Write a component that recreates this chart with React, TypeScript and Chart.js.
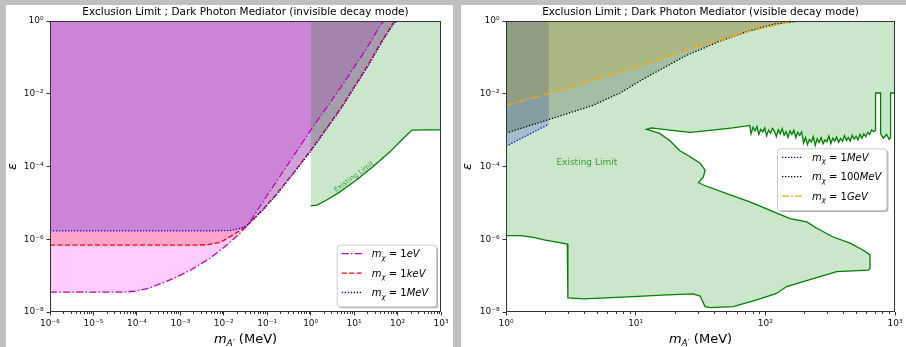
import React, { useEffect, useRef } from 'react';
import { Chart, registerables } from 'chart.js';

Chart.register(...registerables);

const FONT = "'DejaVu Sans', 'Liberation Sans', sans-serif";
const AXIS_COLOR = '#333333';
const BG_GRAY = '#c0c0c0';

// ================= Left panel: invisible decay mode =================
const invTitle = 'Exclusion Limit ; Dark Photon Mediator (invisible decay mode)';
const invMassTicks = [1e-6, 1e-5, 1e-4, 1e-3, 1e-2, 1e-1, 1, 10, 100, 1000];
const epsTicks = [1e-8, 1e-6, 1e-4, 1e-2, 1];

const inv1eVMass = [1e-6, 5e-5, 1e-4, 2e-4, 5.8e-4, 1.66e-3, 4.8e-3, 1.17e-2, 2.34e-2, 3.67e-2, 8.1e-2, 0.316, 1, 4.9, 19.5, 31.6, 39.8, 49];
const inv1eVEps = [3.5e-8, 3.5e-8, 3.8e-8, 4.6e-8, 7.6e-8, 1.38e-7, 3.0e-7, 6.9e-7, 1.45e-6, 2.57e-6, 1.12e-5, 1.26e-4, 1.0e-3, 1.48e-2, 0.178, 0.47, 0.76, 1];

const inv1keVMass = [1e-6, 2.5e-3, 4.1e-3, 8.2e-3, 1.66e-2, 2.8e-2, 3.67e-2, 7.9e-2, 0.158, 0.398, 1, 4.9, 19.5, 46.8, 79, 95];
const inv1keVEps = [6.9e-7, 6.9e-7, 7.1e-7, 8.1e-7, 1.32e-6, 2.0e-6, 2.57e-6, 6.6e-6, 1.66e-5, 6.6e-5, 2.8e-4, 4.0e-3, 5.5e-2, 0.33, 0.87, 1];

const inv1MeVMass = [1e-6, 6.3e-3, 1.39e-2, 2.24e-2, 3.16e-2, 3.67e-2, 7.9e-2, 0.158, 0.398, 1.05, 5.1, 20.4, 49, 83, 100];
const inv1MeVEps = [1.7e-6, 1.7e-6, 1.74e-6, 1.95e-6, 2.3e-6, 2.57e-6, 6.3e-6, 1.58e-5, 6.3e-5, 2.8e-4, 4.0e-3, 5.5e-2, 0.33, 0.87, 1];

const invLimitMass = [1, 1.41, 2.34, 4.8, 11.5, 27.5, 67.6, 135, 214, 398, 1000];
const invLimitEps = [8.3e-6, 8.7e-6, 1.2e-5, 2.04e-5, 4.3e-5, 1.0e-4, 2.57e-4, 5.9e-4, 1.0e-3, 1.02e-3, 1.02e-3];

const invLegendLabels = ['1eV', '1keV', '1MeV'];
const invNote = { mass: 10, eps: 5.2e-5 };

// ================= Right panel: visible decay mode =================
const visTitle = 'Exclusion Limit ; Dark Photon Mediator (visible decay mode)';
const visMassTicks = [1, 10, 100, 1000];

const vis1MeVMass = [1, 2.14];
const vis1MeVEps = [3.6e-4, 1.45e-3];

const vis100MeVMass = [1, 2.14, 4.7, 7.6, 10.7, 13.7, 24.5, 44.7, 70.8, 115, 186];
const vis100MeVEps = [8.3e-4, 1.95e-3, 4.8e-3, 1.05e-2, 2.2e-2, 3.6e-2, 0.112, 0.28, 0.5, 0.81, 1];

const vis1GeVMass = [1, 2.14, 7.6, 13.7, 24.8, 44.7, 81, 148, 158];
const vis1GeVEps = [4.8e-3, 1.02e-2, 3.9e-2, 7.6e-2, 0.158, 0.3, 0.56, 0.91, 1];

// existing limit outline: lower edge (left axis -> tongue tip)
const limitLowMass = [1, 1.29, 1.63, 2.01, 2.47, 2.97, 3.0, 3.96, 5.33, 9.6, 17.4, 27.9, 31.4, 34.3, 37.5, 56.6, 85.9, 122, 146, 196, 355, 622, 641, 641];
const limitLowEps = [1.26e-6, 1.26e-6, 1.12e-6, 9.5e-7, 8.3e-7, 7.4e-7, 2.45e-8, 2.3e-8, 2.4e-8, 2.63e-8, 2.95e-8, 3.16e-8, 2.75e-8, 1.41e-8, 1.32e-8, 1.41e-8, 2.14e-8, 3.24e-8, 5.0e-8, 6.8e-8, 1.29e-7, 1.41e-7, 1.58e-7, 3.7e-7];
// tongue upper edge (tip -> upper left corner)
const limitTongueMass = [569, 450, 331, 249, 209, 155, 115, 75.9, 53.5, 33.3, 30.5, 33.3, 34.3, 31.4, 26.3, 21.9, 18.3, 15.3, 12.1];
const limitTongueEps = [5.0e-7, 7.8e-7, 1.17e-6, 2.0e-6, 3.0e-6, 3.7e-6, 5.75e-6, 1.07e-5, 1.66e-5, 3.1e-5, 3.6e-5, 5.2e-5, 7.9e-5, 1.23e-4, 1.86e-4, 2.7e-4, 5.2e-4, 8.1e-4, 1.05e-3];
// upper boundary, smooth part
const limitUpMass = [13.2, 18.3, 26.3, 37.5, 56.2, 75.9];
const limitUpEps = [1.15e-3, 1.0e-3, 8.7e-4, 9.8e-4, 1.15e-3, 1.35e-3];
// upper boundary, jagged part
const limitJagMass = [
  77.6, 80.4, 83.2, 86.1, 89.1, 92.3, 95.5, 98.9, 102.3, 105.9, 109.6, 113.5, 117.5, 121.6, 125.9, 130.3,
  134.9, 139.6, 144.5, 149.6, 154.9, 160.3, 166.0, 171.8, 177.8, 184.1, 190.5, 197.2, 204.2, 211.3, 218.8, 226.5,
  234.4, 242.7, 251.2, 260.0, 269.2, 278.6, 288.4, 298.5, 309.0, 319.9, 331.1, 342.8, 354.8, 367.3, 380.2, 393.6,
  407.4, 421.7, 436.5, 451.9, 467.7, 484.2, 501.2, 518.8, 537.0, 555.9, 575.4, 595.7, 616.6, 638.3, 660.7, 683.9,
  707.9, 707.9, 774.5, 774.5, 812.8, 861.0, 901.6, 924.7, 924.7, 1000, 1000,
];
const limitJagEps = [
  7.9e-4, 1.2e-3, 9.5e-4, 1.26e-3, 7.6e-4, 1.05e-3, 8.9e-4, 1.15e-3, 6.9e-4, 1.0e-3, 8.3e-4, 1.12e-3, 9.3e-4, 6.6e-4, 1.02e-3, 7.9e-4,
  1.1e-3, 7.2e-4, 9.1e-4, 6.3e-4, 9.5e-4, 7.6e-4, 1.0e-3, 6.2e-4, 8.7e-4, 7.1e-4, 8.9e-4, 4.4e-4, 6.3e-4, 4.0e-4, 5.5e-4, 4.7e-4,
  6.6e-4, 3.8e-4, 5.8e-4, 4.5e-4, 6.2e-4, 4.2e-4, 5.4e-4, 4.8e-4, 6.9e-4, 4.3e-4, 6.0e-4, 5.0e-4, 6.5e-4, 4.6e-4, 5.9e-4, 4.9e-4,
  7.1e-4, 5.2e-4, 6.3e-4, 5.0e-4, 7.2e-4, 5.6e-4, 6.8e-4, 5.4e-4, 7.6e-4, 6.0e-4, 7.9e-4, 6.6e-4, 8.7e-4, 7.6e-4, 1.02e-3, 9.1e-4,
  1.0e-3, 1.05e-2, 1.05e-2, 7.9e-4, 6.0e-4, 7.6e-4, 5.6e-4, 6.3e-4, 1.05e-2, 1.05e-2, 6.3e-4,
];

const visLegendLabels = ['1MeV', '100MeV', '1GeV'];
const visNote = { mass: 4.2, eps: 1.26e-4 };

// ================= styles =================
const DASH_DOT = [7, 2.3, 1.5, 2.3];
const DASHED = [5, 2.5];
const DOTTED = [1.3, 1.7];
const C_MAG = '#bf00bf';
const C_RED = '#ff0000';
const C_BLUE = '#0000ff';
const C_BLACK = '#000000';
const C_ORANGE = '#ffa500';
const C_GREEN = '#008000';

// ================= helpers =================
const SUP: Record<string, string> = { '-': '⁻', '0': '⁰', '1': '¹', '2': '²', '3': '³', '4': '⁴', '5': '⁵', '6': '⁶', '7': '⁷', '8': '⁸', '9': '⁹' };
const powLabel = (v: number) => {
  const e = Math.round(Math.log10(v));
  return '10' + String(e).split('').map((c) => SUP[c]).join('');
};
const pts = (xs: number[], ys: number[]) => xs.map((x, i) => ({ x, y: ys[i] }));

type Seg = { t: string; it?: boolean; size: number; dy?: number };
function drawRich(ctx: CanvasRenderingContext2D, segs: Seg[], x: number, y: number, align: 'left' | 'center') {
  const fonts = segs.map((s) => `${s.it ? 'italic ' : ''}${s.size}px ${FONT}`);
  const widths = segs.map((s, i) => {
    ctx.font = fonts[i];
    return ctx.measureText(s.t).width;
  });
  const total = widths.reduce((a, b) => a + b, 0);
  let cx = align === 'center' ? x - total / 2 : x;
  ctx.textAlign = 'left';
  ctx.textBaseline = 'alphabetic';
  segs.forEach((s, i) => {
    ctx.font = fonts[i];
    ctx.fillText(s.t, cx, y + (s.dy || 0));
    cx += widths[i];
  });
}

function massSegs(label: string): Seg[] {
  const m = label.match(/^(\d+)(.*)$/) as RegExpMatchArray;
  return [
    { t: 'm', it: true, size: 10 },
    { t: 'χ', it: true, size: 7, dy: 2.5 },
    { t: ' = ', size: 10 },
    { t: m[1], size: 10 },
    { t: m[2], it: true, size: 10 },
  ];
}

interface Decor {
  title: string;
  legend: { label: string; color: string; dash: number[] }[];
  box: { right: number; top: number; width: number; height: number };
  note: { mass: number; eps: number; size: number; angle: number };
}

function decorPlugin(d: Decor) {
  return {
    id: 'decor',
    afterDatasetsDraw(chart: any) {
      const { ctx, chartArea: a } = chart;
      const xs = chart.scales.x;
      ctx.save();
      // frame
      ctx.strokeStyle = AXIS_COLOR;
      ctx.lineWidth = 1;
      ctx.setLineDash([]);
      ctx.strokeRect(a.left + 0.5, a.top + 0.5, a.right - a.left - 1, a.bottom - a.top - 1);
      // minor ticks on x
      const lo = Math.round(Math.log10(xs.min));
      const hi = Math.round(Math.log10(xs.max));
      ctx.beginPath();
      for (let e = lo; e < hi; e++) {
        for (let k = 2; k <= 9; k++) {
          const px = Math.round(xs.getPixelForValue(k * Math.pow(10, e))) + 0.5;
          ctx.moveTo(px, a.bottom);
          ctx.lineTo(px, a.bottom + 2);
        }
      }
      ctx.stroke();
      // legend
      const b = d.box;
      const bx = a.right - b.right - b.width;
      const by = a.top + b.top;
      ctx.fillStyle = 'rgba(0,0,0,0.3)';
      ctx.beginPath();
      ctx.roundRect(bx + 2, by + 2, b.width, b.height, 3);
      ctx.fill();
      ctx.fillStyle = '#ffffff';
      ctx.strokeStyle = '#cccccc';
      ctx.beginPath();
      ctx.roundRect(bx + 0.5, by + 0.5, b.width, b.height, 3);
      ctx.fill();
      ctx.stroke();
      d.legend.forEach((it, i) => {
        const yy = by + 9 + i * 19.4;
        ctx.setLineDash(it.dash);
        ctx.strokeStyle = it.color;
        ctx.lineWidth = 1.3;
        ctx.beginPath();
        ctx.moveTo(bx + 5, yy);
        ctx.lineTo(bx + 25, yy);
        ctx.stroke();
        ctx.setLineDash([]);
        ctx.fillStyle = '#000000';
        drawRich(ctx, massSegs(it.label), bx + 35, yy + 3.6, 'left');
      });
      ctx.restore();
    },
    afterDraw(chart: any) {
      const { ctx, chartArea: a } = chart;
      ctx.save();
      ctx.fillStyle = '#000000';
      ctx.font = `10.5px ${FONT}`;
      ctx.textAlign = 'center';
      ctx.textBaseline = 'middle';
      ctx.fillText(d.title, (a.left + a.right) / 2, 7.5);
      drawRich(
        ctx,
        [
          { t: 'm', it: true, size: 13 },
          { t: 'A′', it: true, size: 9, dy: 3 },
          { t: ' (MeV)', size: 13 },
        ],
        (a.left + a.right) / 2,
        338,
        'center'
      );
      ctx.save();
      ctx.translate(7, (a.top + a.bottom) / 2);
      ctx.rotate(-Math.PI / 2);
      ctx.font = `italic 13px ${FONT}`;
      ctx.textAlign = 'center';
      ctx.textBaseline = 'middle';
      ctx.fillText('ε', 0, 0);
      ctx.restore();
      // "Existing Limit" annotation
      const nx = chart.scales.x.getPixelForValue(d.note.mass);
      const ny = chart.scales.y.getPixelForValue(d.note.eps);
      ctx.save();
      ctx.translate(nx, ny);
      ctx.rotate((d.note.angle * Math.PI) / 180);
      ctx.font = `${d.note.size}px ${FONT}`;
      ctx.fillStyle = 'rgba(0,128,0,0.72)';
      ctx.textAlign = 'center';
      ctx.textBaseline = 'middle';
      ctx.fillText('Existing Limit', 0, 0);
      ctx.restore();
      ctx.restore();
    },
  };
}

const zeroPad = (s: any) => {
  s.paddingLeft = 0;
  s.paddingRight = 0;
  s.paddingTop = 0;
  s.paddingBottom = 0;
};

function buildConfig(p: { datasets: any[]; xMin: number; xMax: number; xTicks: number[]; padLeft: number; padRight: number; decor: Decor }): any {
  const tickFont = { family: FONT, size: 9 };
  return {
    type: 'line',
    data: { datasets: p.datasets },
    options: {
      responsive: false,
      maintainAspectRatio: false,
      animation: false,
      devicePixelRatio: 1,
      events: [],
      layout: { padding: { top: 16, left: p.padLeft, right: p.padRight, bottom: 0 } },
      elements: { point: { radius: 0 }, line: { tension: 0, borderWidth: 1.3 } },
      plugins: {
        legend: { display: false },
        tooltip: { enabled: false },
        title: { display: false },
        filler: { drawTime: 'beforeDatasetsDraw' },
      },
      scales: {
        x: {
          type: 'logarithmic',
          min: p.xMin,
          max: p.xMax,
          afterBuildTicks: (s: any) => {
            s.ticks = p.xTicks.map((v) => ({ value: v }));
          },
          afterFit: (s: any) => {
            s.height = 35;
            zeroPad(s);
          },
          ticks: { callback: (v: any) => powLabel(Number(v)), font: tickFont, color: '#111111', padding: 2.5, autoSkip: false, maxRotation: 0, minRotation: 0 },
          grid: { display: true, drawOnChartArea: false, drawTicks: true, tickLength: 3.5, tickColor: AXIS_COLOR, tickWidth: 1 },
          border: { display: false },
        },
        y: {
          type: 'logarithmic',
          min: 1e-8,
          max: 1,
          afterBuildTicks: (s: any) => {
            s.ticks = epsTicks.map((v) => ({ value: v }));
          },
          afterFit: (s: any) => {
            s.width = 44;
            zeroPad(s);
          },
          ticks: { callback: (v: any) => powLabel(Number(v)), font: tickFont, color: '#111111', padding: 3, autoSkip: false },
          grid: { display: true, drawOnChartArea: false, drawTicks: true, tickLength: 3.5, tickColor: AXIS_COLOR, tickWidth: 1 },
          border: { display: false },
        },
      },
    },
    plugins: [decorPlugin(p.decor)],
  };
}

function leftConfig() {
  const datasets = [
    { data: pts(inv1eVMass, inv1eVEps), borderColor: C_MAG, borderDash: DASH_DOT, fill: 'end', backgroundColor: 'rgba(255,0,255,0.2)', order: 4 },
    { data: pts(inv1keVMass, inv1keVEps), borderColor: C_RED, borderDash: DASHED, fill: 'end', backgroundColor: 'rgba(255,0,0,0.2)', order: 3 },
    { data: pts(inv1MeVMass, inv1MeVEps), borderColor: C_BLUE, borderDash: DOTTED, fill: 'end', backgroundColor: 'rgba(0,0,255,0.2)', order: 2 },
    { data: pts(invLimitMass, invLimitEps), borderColor: C_GREEN, fill: 'end', backgroundColor: 'rgba(0,128,0,0.2)', order: 1 },
  ];
  return buildConfig({
    datasets,
    xMin: 1e-6,
    xMax: 1e3,
    xTicks: invMassTicks,
    padLeft: 0,
    padRight: 12,
    decor: {
      title: invTitle,
      legend: [
        { label: invLegendLabels[0], color: C_MAG, dash: DASH_DOT },
        { label: invLegendLabels[1], color: C_RED, dash: DASHED },
        { label: invLegendLabels[2], color: C_BLUE, dash: DOTTED },
      ],
      box: { right: 5, top: 223.7, width: 99.3, height: 61.6 },
      note: { mass: invNote.mass, eps: invNote.eps, size: 7, angle: -36 },
    },
  });
}

function rightConfig() {
  const outline = [
    ...pts(limitLowMass, limitLowEps),
    ...pts(limitTongueMass, limitTongueEps),
    ...pts(limitUpMass, limitUpEps),
    ...pts(limitJagMass, limitJagEps),
  ];
  const polygon = [{ x: 1, y: 1 }, ...outline, { x: 1000, y: 1 }];
  const datasets = [
    { data: pts(vis1MeVMass, vis1MeVEps), borderColor: C_BLUE, borderDash: DOTTED, fill: 'end', backgroundColor: 'rgba(0,0,255,0.2)', order: 5 },
    { data: pts(vis100MeVMass, vis100MeVEps), borderColor: C_BLACK, borderDash: DOTTED, fill: 'end', backgroundColor: 'rgba(0,0,0,0.2)', order: 4 },
    { data: pts(vis1GeVMass, vis1GeVEps), borderColor: C_ORANGE, borderDash: DASH_DOT, fill: 'end', backgroundColor: 'rgba(255,165,0,0.2)', order: 3 },
    { data: polygon, borderWidth: 0, borderColor: 'rgba(0,0,0,0)', fill: 'shape', backgroundColor: 'rgba(0,128,0,0.2)', order: 2 },
    { data: outline, borderColor: C_GREEN, fill: false, order: 1 },
  ];
  return buildConfig({
    datasets,
    xMin: 1,
    xMax: 1e3,
    xTicks: visMassTicks,
    padLeft: 1,
    padRight: 11,
    decor: {
      title: visTitle,
      legend: [
        { label: visLegendLabels[0], color: C_BLUE, dash: DOTTED },
        { label: visLegendLabels[1], color: C_BLACK, dash: DOTTED },
        { label: visLegendLabels[2], color: C_ORANGE, dash: DASH_DOT },
      ],
      box: { right: 8.6, top: 127.3, width: 109.4, height: 61.7 },
      note: { mass: visNote.mass, eps: visNote.eps, size: 9, angle: 0 },
    },
  });
}

function Panel({ left, width, build }: { left: number; width: number; build: () => any }) {
  const ref = useRef<HTMLCanvasElement>(null);
  useEffect(() => {
    const chart = new Chart(ref.current as HTMLCanvasElement, build());
    return () => chart.destroy();
  }, []);
  return (
    <div style={{ position: 'absolute', left, top: 5, width, height: 342, background: '#ffffff' }}>
      <canvas ref={ref} width={width} height={342} style={{ width, height: 342, display: 'block' }} />
    </div>
  );
}

export default function App() {
  return (
    <div style={{ position: 'absolute', left: 0, top: 0, width: 906, height: 347, background: BG_GRAY, overflow: 'hidden' }}>
      <Panel left={6} width={447} build={leftConfig} />
      <Panel left={461} width={445} build={rightConfig} />
    </div>
  );
}
